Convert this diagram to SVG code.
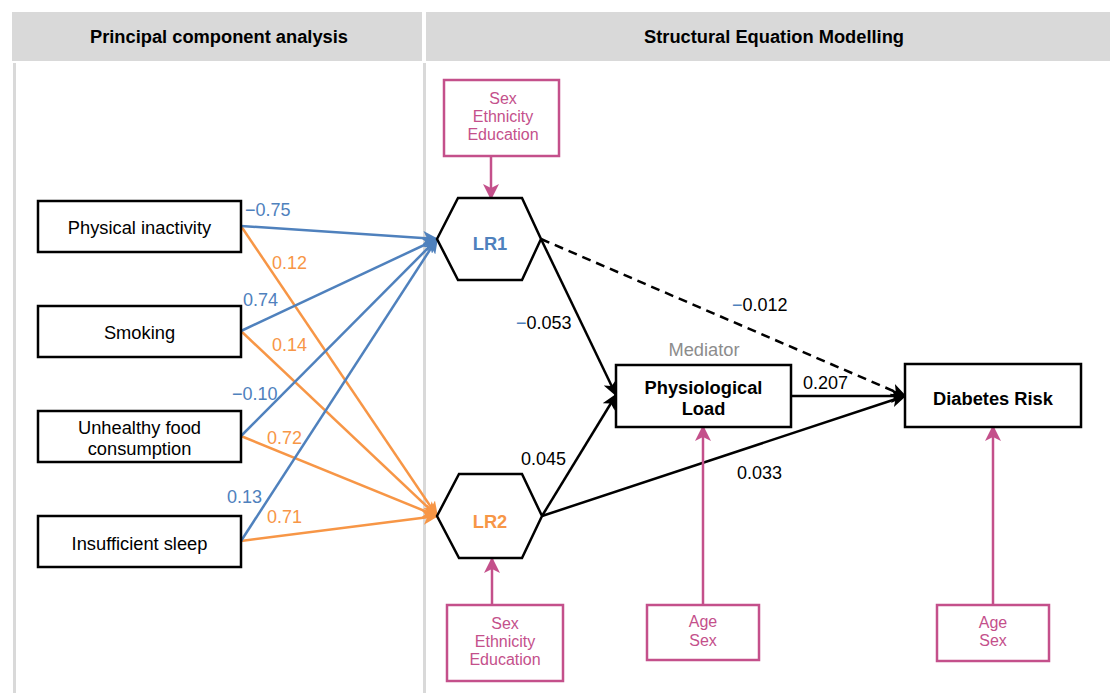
<svg xmlns="http://www.w3.org/2000/svg" width="1110" height="693" viewBox="0 0 1110 693">
<style>
text{font-family:"Liberation Sans",Arial,sans-serif;}
.hdr{font-size:18.3px;font-weight:bold;fill:#000;text-anchor:middle;}
.box{fill:#fff;stroke:#000;stroke-width:2.5;}
.cov{fill:#fff;stroke:#c4508b;stroke-width:2.5;}
.lbl{font-size:18.3px;fill:#000;text-anchor:middle;}
.bold{font-weight:bold;}
.ctxt{font-size:16px;fill:#c4508b;text-anchor:middle;}
.num{font-size:18px;}
.blue{fill:#4f81bd;}
.orange{fill:#f79646;}
.blk{fill:#000;}
.lb{stroke:#4f81bd;stroke-width:2.5;fill:none;}
.lo{stroke:#f79646;stroke-width:2.5;fill:none;}
.lk{stroke:#000;stroke-width:2.5;fill:none;}
.lp{stroke:#c4508b;stroke-width:2.5;fill:none;}
</style>
<defs>
<marker id="ab" markerUnits="userSpaceOnUse" markerWidth="16" markerHeight="14" refX="14" refY="7" orient="auto"><path d="M0,0 L16,7 L0,14 L4,7 z" fill="#4f81bd"/></marker>
<marker id="ao" markerUnits="userSpaceOnUse" markerWidth="16" markerHeight="14" refX="14" refY="7" orient="auto"><path d="M0,0 L16,7 L0,14 L4,7 z" fill="#f79646"/></marker>
<marker id="ak" markerUnits="userSpaceOnUse" markerWidth="16" markerHeight="14" refX="14" refY="7" orient="auto"><path d="M0,0 L16,7 L0,14 L4,7 z" fill="#000"/></marker>
<marker id="ap" markerUnits="userSpaceOnUse" markerWidth="16" markerHeight="16" refX="14" refY="8" orient="auto"><path d="M0,0 L16,8 L0,16 L4,8 z" fill="#c4508b"/></marker>
</defs>
<rect width="1110" height="693" fill="#fff"/>
<g id="panels">
<rect x="12" y="12" width="410" height="49" fill="#d9d9d9"/>
<rect x="426" y="12" width="684" height="49" fill="#d9d9d9"/>
<rect x="13" y="63" width="3" height="630" fill="#d9d9d9"/>
<rect x="423" y="63" width="3" height="630" fill="#d9d9d9"/>
<text class="hdr" x="219" y="43">Principal component analysis</text>
<text class="hdr" x="774" y="43">Structural Equation Modelling</text>
</g>
<g id="connectors">
<line class="lo" x1="241" y1="226" x2="437" y2="516" marker-end="url(#ao)"/>
<line class="lo" x1="241" y1="331" x2="437" y2="516" marker-end="url(#ao)"/>
<line class="lo" x1="241" y1="436" x2="437" y2="516" marker-end="url(#ao)"/>
<line class="lo" x1="241" y1="541" x2="437" y2="516" marker-end="url(#ao)"/>
<line class="lb" x1="241" y1="226" x2="437" y2="239" marker-end="url(#ab)"/>
<line class="lb" x1="241" y1="331" x2="437" y2="239" marker-end="url(#ab)"/>
<line class="lb" x1="241" y1="436" x2="437" y2="239" marker-end="url(#ab)"/>
<line class="lb" x1="241" y1="541" x2="437" y2="239" marker-end="url(#ab)"/>
<line class="lk" x1="541" y1="239" x2="616" y2="395" marker-end="url(#ak)"/>
<line class="lk" x1="542" y1="516" x2="616" y2="395" marker-end="url(#ak)"/>
<line class="lk" x1="541" y1="239" x2="905" y2="396" stroke-dasharray="9,6" marker-end="url(#ak)"/>
<line class="lk" x1="791" y1="396" x2="905" y2="396" marker-end="url(#ak)"/>
<line class="lk" x1="542" y1="516" x2="905" y2="396" marker-end="url(#ak)"/>
<line class="lp" x1="491" y1="156" x2="491" y2="198" marker-end="url(#ap)"/>
<line class="lp" x1="492" y1="605" x2="492" y2="559" marker-end="url(#ap)"/>
<line class="lp" x1="703" y1="605" x2="703" y2="427" marker-end="url(#ap)"/>
<line class="lp" x1="993" y1="605" x2="993" y2="427" marker-end="url(#ap)"/>
<text class="num blue" x="245" y="216">−0.75</text>
<text class="num orange" x="272" y="269">0.12</text>
<text class="num blue" x="243" y="306">0.74</text>
<text class="num orange" x="272" y="351">0.14</text>
<text class="num blue" x="232" y="400">−0.10</text>
<text class="num orange" x="267" y="444">0.72</text>
<text class="num blue" x="227" y="503">0.13</text>
<text class="num orange" x="267" y="523">0.71</text>
<text class="num" x="516" y="329"><tspan class="blue">−</tspan><tspan class="blk">0.053</tspan></text>
<text class="num" x="732" y="311"><tspan class="blue">−</tspan><tspan class="blk">0.012</tspan></text>
<text class="num blk" x="803" y="389">0.207</text>
<text class="num blk" x="521" y="465">0.045</text>
<text class="num blk" x="737" y="479">0.033</text>
</g>
<g id="n-physical">
<rect class="box" x="38" y="201" width="203" height="51"/>
<text class="lbl" x="139.5" y="233.5">Physical inactivity</text>
</g>
<g id="n-smoking">
<rect class="box" x="38" y="306" width="203" height="51"/>
<text class="lbl" x="139.5" y="338.5">Smoking</text>
</g>
<g id="n-food">
<rect class="box" x="38" y="411" width="203" height="51"/>
<text class="lbl" x="139.5" y="434">Unhealthy food</text>
<text class="lbl" x="139.5" y="455">consumption</text>
</g>
<g id="n-sleep">
<rect class="box" x="38" y="516" width="203" height="51"/>
<text class="lbl" x="139.5" y="550">Insufficient sleep</text>
</g>
<g id="n-lr1">
<polygon class="box" points="437,239 458,198 522,198 541,239 522,280 458,280"/>
<text class="lbl bold" x="490" y="250" style="fill:#4f81bd">LR1</text>
</g>
<g id="n-lr2">
<polygon class="box" points="437,516 459,474 522,474 542,516 522,558 459,558"/>
<text class="lbl bold" x="490" y="527.5" style="fill:#f79646">LR2</text>
</g>
<g id="n-cov-lr1">
<rect class="cov" x="444" y="80" width="115" height="76"/>
<text class="ctxt" x="503" y="104">Sex</text>
<text class="ctxt" x="503" y="122">Ethnicity</text>
<text class="ctxt" x="503" y="140">Education</text>
</g>
<g id="n-cov-lr2">
<rect class="cov" x="447" y="605" width="116" height="76"/>
<text class="ctxt" x="505" y="629">Sex</text>
<text class="ctxt" x="505" y="647">Ethnicity</text>
<text class="ctxt" x="505" y="665">Education</text>
</g>
<g id="n-physio">
<text class="lbl" x="704" y="355.5" style="fill:#8c8c8c">Mediator</text>
<rect class="box" x="616" y="365" width="175" height="62"/>
<text class="lbl bold" x="703.5" y="393.5">Physiological</text>
<text class="lbl bold" x="703.5" y="414.5">Load</text>
</g>
<g id="n-diabetes">
<rect class="box" x="905" y="364" width="176" height="63"/>
<text class="lbl bold" x="993" y="404.5">Diabetes Risk</text>
</g>
<g id="n-cov-physio">
<rect class="cov" x="647" y="605" width="112" height="55"/>
<text class="ctxt" x="703" y="627">Age</text>
<text class="ctxt" x="703" y="646">Sex</text>
</g>
<g id="n-cov-diabetes">
<rect class="cov" x="937" y="605" width="112" height="56"/>
<text class="ctxt" x="993" y="628">Age</text>
<text class="ctxt" x="993" y="646">Sex</text>
</g>
</svg>
